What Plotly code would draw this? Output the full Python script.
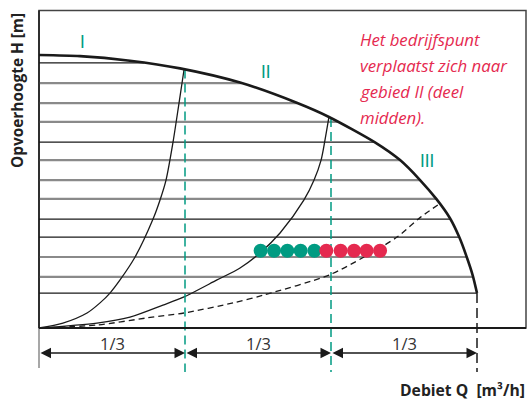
import numpy as np
import plotly.graph_objects as go

# ---------------- data ----------------
# Pump curve H(Q); Q in thirds of max flow (0..3), H in relative head units
pump_Q = [0.0, 0.281, 0.623, 0.966, 1.377, 1.765, 1.986, 2.301, 2.473, 2.610, 2.724, 2.815, 2.879, 2.929, 2.971, 3.0]
pump_H = [10.0, 9.96, 9.79, 9.51, 8.99, 8.25, 7.73, 6.80, 6.15, 5.42, 4.71, 4.02, 3.32, 2.61, 1.92, 1.28]

# System curve I (steep)
sys1_Q = [0.0, 0.164, 0.329, 0.418, 0.486, 0.555, 0.658, 0.781, 0.829, 0.870, 0.918, 0.959, 0.993]
sys1_H = [0.0, 0.18, 0.55, 0.92, 1.28, 1.76, 2.60, 3.99, 4.69, 5.42, 6.81, 8.24, 9.45]

# System curve II
sys2_Q = [0.0, 0.397, 0.623, 0.849, 0.993, 1.219, 1.377, 1.514, 1.651, 1.815, 1.884, 1.932, 1.959, 1.986]
sys2_H = [0.0, 0.18, 0.40, 0.84, 1.14, 1.76, 2.20, 2.75, 3.48, 4.69, 5.42, 6.15, 6.89, 7.73]

# System curve III (dashed)
sys3_Q = [0.0, 0.397, 0.740, 0.993, 1.329, 1.541, 1.986, 2.226, 2.452, 2.616, 2.753]
sys3_H = [0.0, 0.11, 0.37, 0.55, 0.92, 1.21, 1.94, 2.60, 3.33, 4.07, 4.58]

# Horizontal hatch lines (H levels) and their style
hatch_H = [9.71, 8.97, 8.24, 7.55, 6.81, 6.15, 5.42, 4.73, 3.99, 3.33, 2.60, 1.87, 1.28]
hatch_dark = [True, False, False, False, True, False, False, False, True, True, False, False, True]

# Operating points
teal_Q = [1.518, 1.610, 1.701, 1.792, 1.886]
red_Q = [1.968, 2.066, 2.158, 2.244, 2.336]
dots_H = 2.83

# Region dividers (thirds) and labels
dividers_Q = [0.0, 1.0, 2.0, 3.0]
third_labels = ["1/3", "1/3", "1/3"]
region_labels = ["I", "II", "III"]
region_Q = [0.295, 1.555, 2.658]
region_H = [10.51, 9.38, 6.15]

note_lines = ["Het bedrijfspunt", "verplaatst zich naar", "gebied II (deel", "midden)."]

# ---------------- styling ----------------
TEAL = "#009b82"
RED = "#e5294f"
DARK = "#1a1a1a"
GRAY = "#8a8a8a"

PX_Q = 146.0   # pixels per Q unit
PX_H = 27.3    # pixels per H unit
X0_PX, Y0_PX = 39.0, 328.0
W, H = 528, 401

xr = [-X0_PX / PX_Q, (W - X0_PX) / PX_Q]
yr = [(Y0_PX - H) / PX_H, Y0_PX / PX_H]

def hy(py):
    return (Y0_PX - py) / PX_H

def qx(px):
    return (px - X0_PX) / PX_Q

fig = go.Figure()

# hatch lines ending at the pump curve
for h, dark in zip(hatch_H, hatch_dark):
    qe = float(np.interp(h, pump_H[::-1], pump_Q[::-1]))
    fig.add_trace(go.Scatter(
        x=[0, qe], y=[h, h], mode="lines",
        line=dict(color=DARK if dark else GRAY, width=1.2 if dark else 2.2),
        hoverinfo="skip", showlegend=False))

# system curves
fig.add_trace(go.Scatter(x=sys1_Q, y=sys1_H, mode="lines",
                         line=dict(color=DARK, width=1.3, shape="spline", smoothing=0.8),
                         showlegend=False, hoverinfo="skip"))
fig.add_trace(go.Scatter(x=sys2_Q, y=sys2_H, mode="lines",
                         line=dict(color=DARK, width=1.3, shape="spline", smoothing=0.8),
                         showlegend=False, hoverinfo="skip"))
fig.add_trace(go.Scatter(x=sys3_Q, y=sys3_H, mode="lines",
                         line=dict(color=DARK, width=1.3, shape="spline", smoothing=0.8, dash="6px,4px"),
                         showlegend=False, hoverinfo="skip"))

# dividers: teal dashed at 1/3 and 2/3, black dashed at max flow
bottom_H = hy(372)
for q in dividers_Q[1:3]:
    top = float(np.interp(q, pump_Q, pump_H))
    fig.add_trace(go.Scatter(x=[q, q], y=[top, bottom_H], mode="lines",
                             line=dict(color=TEAL, width=1.5, dash="9px,5px"),
                             showlegend=False, hoverinfo="skip"))
fig.add_trace(go.Scatter(x=[dividers_Q[3], dividers_Q[3]], y=[pump_H[-1], bottom_H], mode="lines",
                         line=dict(color=DARK, width=1.5, dash="10px,5px"),
                         showlegend=False, hoverinfo="skip"))
# left extension line below the frame
fig.add_trace(go.Scatter(x=[0, 0], y=[0, hy(368)], mode="lines",
                         line=dict(color=GRAY, width=1.5),
                         showlegend=False, hoverinfo="skip"))

# pump curve
fig.add_trace(go.Scatter(x=pump_Q, y=pump_H, mode="lines",
                         line=dict(color=DARK, width=2.6, shape="spline", smoothing=0.7),
                         showlegend=False, hoverinfo="skip"))

# operating points
fig.add_trace(go.Scatter(x=teal_Q, y=[dots_H] * len(teal_Q), mode="markers",
                         marker=dict(color=TEAL, size=14, line=dict(width=0)),
                         showlegend=False, hoverinfo="skip"))
fig.add_trace(go.Scatter(x=red_Q, y=[dots_H] * len(red_Q), mode="markers",
                         marker=dict(color=RED, size=14, line=dict(width=0)),
                         showlegend=False, hoverinfo="skip"))

# frame
fig.add_shape(type="rect", xref="x", yref="y", x0=0, x1=qx(526), y0=0, y1=hy(10.5),
              line=dict(color="#444444", width=1.5), layer="below")
fig.add_shape(type="line", xref="x", yref="y", x0=0, x1=qx(526), y0=0, y1=0,
              line=dict(color=DARK, width=2), layer="above")
fig.add_shape(type="line", xref="x", yref="y", x0=0, x1=0, y0=0, y1=hy(10.5),
              line=dict(color=DARK, width=1.5), layer="above")

# dimension arrows and 1/3 labels
arrow_H = hy(353)
label_H = hy(343)
for i in range(3):
    a, b = dividers_Q[i], dividers_Q[i + 1]
    fig.add_annotation(x=b, y=arrow_H, ax=a, ay=arrow_H, xref="x", yref="y",
                       axref="x", ayref="y", text="", showarrow=True,
                       arrowside="end+start", arrowhead=2, startarrowhead=2,
                       arrowsize=1.5, startarrowsize=1.5, arrowwidth=1.4,
                       arrowcolor=DARK, standoff=0, startstandoff=0)
    fig.add_annotation(x=(a + b) / 2, y=label_H, text=third_labels[i], showarrow=False,
                       font=dict(family="Open Sans, sans-serif", size=16.5, color="#333333"),
                       xanchor="center", yanchor="middle")

# region labels
for t, q, h in zip(region_labels, region_Q, region_H):
    fig.add_annotation(x=q, y=h, text=t, showarrow=False,
                       font=dict(family="Lato, sans-serif", size=17, color=TEAL),
                       xanchor="center", yanchor="middle")

# note text
for i, line in enumerate(note_lines):
    fig.add_annotation(x=qx(358), y=hy(39 + 26 * i), text=f"<i>{line}</i>", showarrow=False,
                       font=dict(family="Open Sans, sans-serif", size=16.8, color=RED),
                       xanchor="left", yanchor="middle")

# axis titles
fig.add_annotation(x=qx(17), y=hy(91), text="<b>Opvoerhoogte H [m]</b>", showarrow=False,
                   textangle=-90, font=dict(family="Open Sans, sans-serif", size=15.4, color="#222222"),
                   xanchor="center", yanchor="middle")
fig.add_annotation(x=qx(527), y=hy(390), text="<b>Debiet Q&nbsp;&nbsp;[m³/h]</b>", showarrow=False,
                   font=dict(family="Open Sans, sans-serif", size=15.7, color="#222222"),
                   xanchor="right", yanchor="middle")

fig.update_layout(
    width=W, height=H,
    margin=dict(l=0, r=0, t=0, b=0),
    paper_bgcolor="white", plot_bgcolor="white",
    xaxis=dict(range=xr, visible=False, fixedrange=True),
    yaxis=dict(range=yr, visible=False, fixedrange=True),
    showlegend=False,
)

fig.write_html("out.html", config={"displayModeBar": False},
               post_script="document.body.style.margin='0';document.body.style.overflow='hidden';")
